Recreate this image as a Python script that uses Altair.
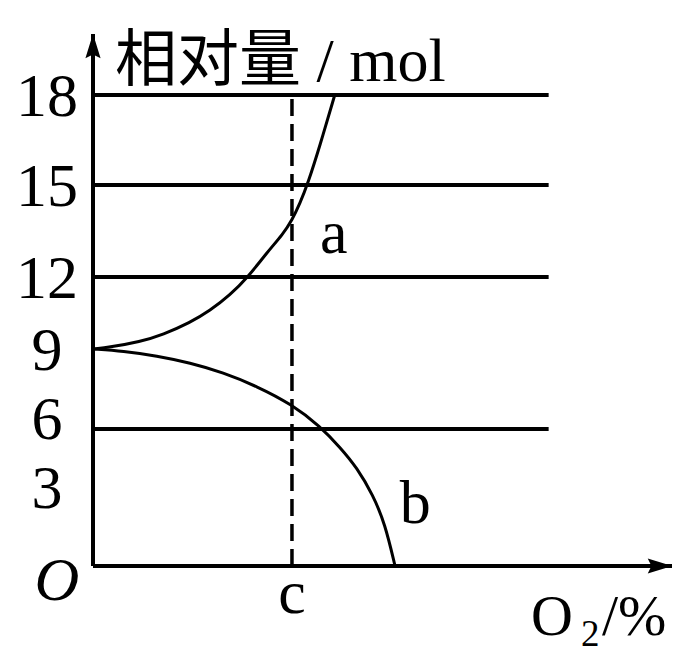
import altair as alt
import pandas as pd

# ---- data ----
y_label_text = ["18", "15", "12", "9"]
y_label_vals = [18, 15, 12, 9]
y_label_low_text = ["6", "3"]
y_label_low_vals = [6, 3]
grid_vals = [18, 15, 12, 6]
grid_x_end = 45.8
c_val = 20
c_top = 18
x_max = 58.2
y_max = 20

a_x = [0, 1.71, 4.72, 7.04, 9.75, 11.76, 13.77, 15.58, 17.49, 19.1, 20.0, 20.8, 21.6, 22.8, 24.3]
a_y = [9, 9.08, 9.3, 9.6, 10.1, 10.6, 11.25, 12.0, 12.8, 13.4, 13.85, 14.4, 15.05, 16.3, 18]
b_x = [0, 3.02, 6.43, 9.75, 13.07, 16.49, 20.0, 22.82, 24.83, 26.54, 28.15, 29.35, 30.36]
b_y = [9, 8.92, 8.74, 8.48, 8.12, 7.6, 6.92, 6.1, 5.2, 4.3, 3.1, 1.85, 0]

curve_labels = ["a", "b"]
curve_label_x = [24.2, 32.4]
curve_label_y = [12.78, 1.88]

FONT = "Liberation Serif"
FS = 62

xs = alt.Scale(domain=[0, x_max], nice=False, zero=False)
ys = alt.Scale(domain=[0, 6, 9, 12, 15, 18, y_max], range=[532, 395, 315, 243, 151, 61, 0],
               nice=False, zero=False)

def X(f="x"):
    return alt.X(f"{f}:Q", scale=xs, axis=None)

def Y(f="y"):
    return alt.Y(f"{f}:Q", scale=ys, axis=None)

curves = pd.DataFrame({
    "x": a_x + b_x,
    "y": a_y + b_y,
    "s": ["a"] * len(a_x) + ["b"] * len(b_x),
})
grid = pd.DataFrame({"y": grid_vals, "x": [0] * len(grid_vals), "x2": [grid_x_end] * len(grid_vals)})
axes_df = pd.DataFrame({"x": [0, 0], "y": [0, 0], "x2": [0, x_max], "y2": [y_max, 0]})
dash_df = pd.DataFrame({"x": [c_val], "y": [0], "y2": [c_top]})
ylab = pd.DataFrame({"t": y_label_text, "y": y_label_vals, "x": [0] * len(y_label_vals)})
ylab_low = pd.DataFrame({"t": y_label_low_text, "y": y_label_low_vals, "x": [0] * len(y_label_low_vals)})
origin_df = pd.DataFrame({"t": ["O"], "x": [0], "y": [0]})
clab = pd.DataFrame({"t": curve_labels, "x": curve_label_x, "y": curve_label_y})
c_df = pd.DataFrame({"t": ["c"], "x": [c_val], "y": [0]})
ytitle_df = pd.DataFrame({"t": ["相对量 / mol"], "x": [0], "y": [18]})
xt_df = pd.DataFrame({"x": [x_max], "y": [0]})
arrow_up = pd.DataFrame({"x": [0], "y": [y_max]})
arrow_right = pd.DataFrame({"x": [x_max], "y": [0]})

ARROW = "M0,-1 L0.62,1 L0,0.7 L-0.62,1 Z"

grid_layer = alt.Chart(grid).mark_rule(color="black", strokeWidth=4).encode(
    y=Y(), x=X(), x2="x2:Q")
axes_layer = alt.Chart(axes_df).mark_rule(color="black", strokeWidth=4).encode(
    x=X(), y=Y(), x2="x2:Q", y2="y2:Q")
dash_layer = alt.Chart(dash_df).mark_rule(color="black", strokeWidth=3.5, strokeDash=[17, 8]).encode(
    x=X(), y=Y(), y2="y2:Q")
curve_layer = alt.Chart(curves).mark_line(color="black", strokeWidth=3, interpolate="basis").encode(
    x=X(), y=Y(), detail="s:N")
up_layer = alt.Chart(arrow_up).mark_point(shape=ARROW, filled=True, size=600, color="black",
                                           opacity=1, yOffset=12).encode(x=X(), y=Y())
right_layer = alt.Chart(arrow_right).mark_point(shape=ARROW, filled=True, size=600, color="black",
                                                opacity=1, angle=90, xOffset=-12).encode(x=X(), y=Y())
ylab_layer = alt.Chart(ylab).mark_text(font=FONT, fontSize=FS, align="center", baseline="alphabetic",
                                       dx=-46, dy=21, color="black").encode(x=X(), y=Y(), text="t:N")
ylab_low_layer = alt.Chart(ylab_low).mark_text(font=FONT, fontSize=FS, align="center", baseline="alphabetic",
                                               dx=-46, dy=10, color="black").encode(x=X(), y=Y(), text="t:N")
origin_layer = alt.Chart(origin_df).mark_text(font=FONT, fontSize=FS, fontStyle="italic", align="center",
                                              baseline="alphabetic", dx=-36, dy=34, color="black").encode(
    x=X(), y=Y(), text="t:N")
clab_layer = alt.Chart(clab).mark_text(font=FONT, fontSize=FS, align="center", baseline="alphabetic",
                                       color="black").encode(x=X(), y=Y(), text="t:N")
c_layer = alt.Chart(c_df).mark_text(font=FONT, fontSize=FS, align="center", baseline="alphabetic",
                                    dy=47, color="black").encode(x=X(), y=Y(), text="t:N")
ytitle_layer = alt.Chart(ytitle_df).mark_text(font="Liberation Serif, Noto Sans CJK SC", fontSize=FS,
                                              align="left", baseline="alphabetic", dx=22, dy=-14,
                                              color="black").encode(x=X(), y=Y(), text="t:N")
xt_o = alt.Chart(xt_df).mark_text(text="O", font=FONT, fontSize=58, align="left", baseline="alphabetic",
                                  dx=-141, dy=69, color="black").encode(x=X(), y=Y())
xt_2 = alt.Chart(xt_df).mark_text(text="2", font=FONT, fontSize=37, align="left", baseline="alphabetic",
                                  dx=-91, dy=80, color="black").encode(x=X(), y=Y())
xt_p = alt.Chart(xt_df).mark_text(text="/%", font=FONT, fontSize=58, align="left", baseline="alphabetic",
                                  dx=-70, dy=69, color="black").encode(x=X(), y=Y())

chart = alt.layer(
    grid_layer, axes_layer, dash_layer, curve_layer, up_layer, right_layer,
    ylab_layer, ylab_low_layer, origin_layer, clab_layer, c_layer, ytitle_layer,
    xt_o, xt_2, xt_p,
).properties(
    width=579, height=532,
    autosize=alt.AutoSizeParams(type="none"),
    padding={"left": 85, "top": 26, "right": 12, "bottom": 92},
    background="white",
).configure_view(strokeWidth=0)

chart.save("out.html", embed_options={"renderer": "svg", "actions": False})
